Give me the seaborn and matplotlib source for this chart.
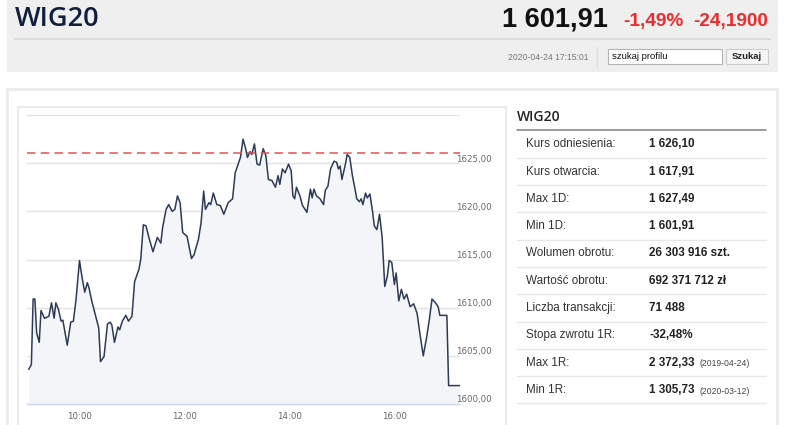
import numpy as np
import pandas as pd
import seaborn as sns
import matplotlib.pyplot as plt
from matplotlib.patches import Rectangle

# header
title = "WIG20"
last_price = "1 601,91"
change_pct = "-1,49%"
change_abs = "-24,1900"
timestamp = "2020-04-24 17:15:01"

# intraday series (minutes after 9:00, index value)
minutes = [2, 5, 7, 9, 11, 14, 16, 20, 25, 28, 31, 33, 36, 39, 41, 46, 50, 53, 56, 60,
           63, 66, 69, 71, 74, 82, 84, 88, 92, 95, 97, 100, 104, 106, 109, 113, 116, 120, 123, 128,
           130, 133, 136, 139, 144, 149, 153, 155, 159, 162, 166, 169, 172, 175, 178, 183, 188, 191, 196, 199,
           202, 204, 208, 210, 213, 217, 221, 225, 230, 235, 238, 244, 247, 250, 252, 255, 257, 260, 263, 266,
           270, 273, 276, 280, 284, 287, 289, 292, 295, 299, 302, 304, 306, 308, 312, 315, 320, 324, 326, 328,
           331, 335, 339, 341, 344, 347, 351, 354, 356, 358, 360, 364, 366, 369, 372, 375, 377, 380, 382, 384,
           387, 389, 392, 395, 397, 400, 403, 406, 409, 412, 414, 417, 420, 422, 425, 428, 431, 434, 438, 442,
           446, 449, 453, 457, 460, 463, 467, 470, 472, 480, 482, 495]
values = [1603.6, 1604.1, 1610.9, 1610.9, 1607.4, 1606.4, 1609.7, 1608.9, 1609.1, 1610.5, 1608.9, 1610.5, 1609.8, 1608.6, 1608.7, 1606.1, 1608.5, 1608.6, 1610.8, 1614.9,
          1613.1, 1611.6, 1612.6, 1612.0, 1610.7, 1607.9, 1604.4, 1604.9, 1608.3, 1608.5, 1608.2, 1606.4, 1608.0, 1607.7, 1608.6, 1609.2, 1608.6, 1609.1, 1612.7, 1614.0,
          1615.0, 1618.6, 1618.5, 1617.4, 1615.8, 1617.3, 1616.7, 1618.3, 1620.2, 1620.7, 1620.0, 1620.2, 1621.6, 1620.9, 1617.8, 1617.4, 1615.1, 1615.5, 1617.1, 1618.8,
          1622.1, 1620.2, 1620.9, 1620.7, 1621.9, 1620.7, 1620.6, 1619.7, 1620.9, 1621.3, 1624.0, 1625.6, 1627.49, 1626.5, 1625.6, 1626.2, 1625.9, 1627.0, 1624.9, 1624.8,
          1626.5, 1625.8, 1623.3, 1623.2, 1622.5, 1623.7, 1622.8, 1624.4, 1624.0, 1624.9, 1624.2, 1621.6, 1621.3, 1622.5, 1621.6, 1620.6, 1619.9, 1622.3, 1621.4, 1622.3,
          1621.6, 1621.3, 1620.7, 1622.2, 1622.6, 1624.4, 1625.2, 1625.1, 1624.4, 1624.7, 1623.3, 1624.9, 1625.9, 1625.6, 1623.7, 1622.3, 1621.3, 1621.0, 1621.3, 1620.7,
          1621.9, 1621.4, 1621.8, 1620.0, 1618.5, 1618.1, 1619.7, 1617.3, 1612.2, 1613.3, 1614.9, 1614.7, 1612.4, 1613.6, 1610.7, 1611.9, 1610.9, 1611.4, 1610.1, 1610.4,
          1609.4, 1607.4, 1605.0, 1607.0, 1608.8, 1610.9, 1610.5, 1610.1, 1609.2, 1609.2, 1601.91, 1601.91]
ref_level = 1626.10
x_ticks = [60, 180, 300, 420]
x_labels = ["10:00", "12:00", "14:00", "16:00"]
y_ticks = [1600, 1605, 1610, 1615, 1620, 1625, 1630]
y_labels = ["1600,00", "1605,00", "1610,00", "1615,00", "1620,00", "1625,00", ""]

# side table
row_labels = ["Kurs odniesienia:", "Kurs otwarcia:", "Max 1D:", "Min 1D:", "Wolumen obrotu:",
              "Wartość obrotu:", "Liczba transakcji:", "Stopa zwrotu 1R:", "Max 1R:", "Min 1R:"]
row_values = ["1 626,10", "1 617,91", "1 627,49", "1 601,91", "26 303 916 szt.",
              "692 371 712 zł", "71 488", "-32,48%", "2 372,33", "1 305,73"]
row_dates = ["", "", "", "", "", "", "", "", "(2019-04-24)", "(2020-03-12)"]

df = pd.DataFrame({"t": minutes, "v": values})

sns.set_style("white")
plt.rcParams["font.family"] = ["Liberation Sans", "DejaVu Sans"]

W, H = 786, 425
fig = plt.figure(figsize=(W / 100, H / 100), dpi=100)

# page layer in pixel coords
bg = fig.add_axes([0, 0, 1, 1])
bg.set_xlim(0, W)
bg.set_ylim(H, 0)
bg.axis("off")

bg.add_patch(Rectangle((7, 0), 771, 72, facecolor="#efefef", edgecolor="none"))
bg.plot([15, 770], [39, 39], color="#dcdcdc", lw=1.5)
bg.text(15, 26, title, fontsize=19.5, family="Open Sans", fontweight="semibold", color="#0f1f3d")
bg.text(608, 26, last_price, fontsize=19.5, fontweight="bold", color="#111111", ha="right")
bg.text(623, 26, change_pct, fontsize=13.7, fontweight="bold", color="#ee2a2a")
bg.text(693, 26, change_abs, fontsize=13.7, fontweight="bold", color="#ee2a2a")
bg.text(589, 57, timestamp, fontsize=6.2, color="#777777", ha="right", va="center")
bg.plot([597, 597], [47, 67], color="#dddddd", lw=1)
bg.add_patch(Rectangle((608, 49), 114, 15, facecolor="white", edgecolor="#b5b5b5", lw=0.8))
bg.text(612, 56.5, "szukaj profilu", fontsize=6.8, color="#111111", va="center")
bg.add_patch(Rectangle((726, 49), 42, 15, facecolor="#f5f5f5", edgecolor="#cccccc", lw=0.8))
bg.text(747, 56.5, "Szukaj", fontsize=6.8, fontweight="bold", color="#222222", ha="center", va="center")

# panels
bg.add_patch(Rectangle((7, 89), 770, 350, facecolor="white", edgecolor="#ebebeb", lw=2))
bg.add_patch(Rectangle((18, 107), 488, 330, facecolor="white", edgecolor="#ececec", lw=1.5))

# table
bg.text(517, 117, "WIG20", fontsize=10, family="Open Sans", fontweight="semibold", color="#222222", va="center")
bg.plot([517, 766], [130, 130], color="#8a8a8a", lw=1.2)
for i, (lab, val, dt) in enumerate(zip(row_labels, row_values, row_dates)):
    yc = 144.3 + 27.3 * i
    bg.text(526, yc, lab, fontsize=8.4, color="#333333", va="center")
    bg.text(649, yc, val, fontsize=8.4, fontweight="bold", color="#222222", va="center")
    if dt:
        bg.text(699, yc + 1, dt, fontsize=6.2, color="#444444", va="center")
    bg.plot([517, 766], [yc + 13.4, yc + 13.4], color="#e8e8e8", lw=1)

# chart
left, right, top, bottom = 27, 460, 115, 404
ax = fig.add_axes([left / W, (H - bottom) / H, (right - left) / W, (bottom - top) / H])
ax.set_facecolor("none")
ax.fill_between(df["t"], df["v"], 1600, color="#f3f5f8", lw=0)
sns.lineplot(data=df, x="t", y="v", ax=ax, color="#2e3b57", lw=1.1, estimator=None)
ax.axhline(ref_level, color="#e35252", lw=1.1, dashes=(5.5, 3.5))

ax.set_xlim(0, 495)
ax.set_ylim(1600, 1630)
ax.set_yticks(y_ticks)
ax.set_yticklabels([])
ax.tick_params(axis="y", length=0)
ax.yaxis.grid(True, color="#e3e3e3", lw=1)
ax.set_axisbelow(True)
ax.set_xticks(x_ticks)
ax.set_xticklabels(x_labels, family="DejaVu Sans", fontsize=6.2, color="#666666")
ax.tick_params(axis="x", length=3.6, width=0.8, color="#ccd6eb", pad=2)
for s in ["top", "right", "left"]:
    ax.spines[s].set_visible(False)
ax.spines["bottom"].set_color("#ccd6eb")
ax.spines["bottom"].set_linewidth(1)
ax.set_xlabel("")
ax.set_ylabel("")

for v, lab in zip(y_ticks, y_labels):
    if lab:
        ax.annotate(lab, xy=(0.991, v), xycoords=ax.get_yaxis_transform(),
                    xytext=(0, 3), textcoords="offset points",
                    family="DejaVu Sans", fontsize=6.2, color="#666666", va="center", ha="left")

fig.savefig("out.png", dpi=100)
